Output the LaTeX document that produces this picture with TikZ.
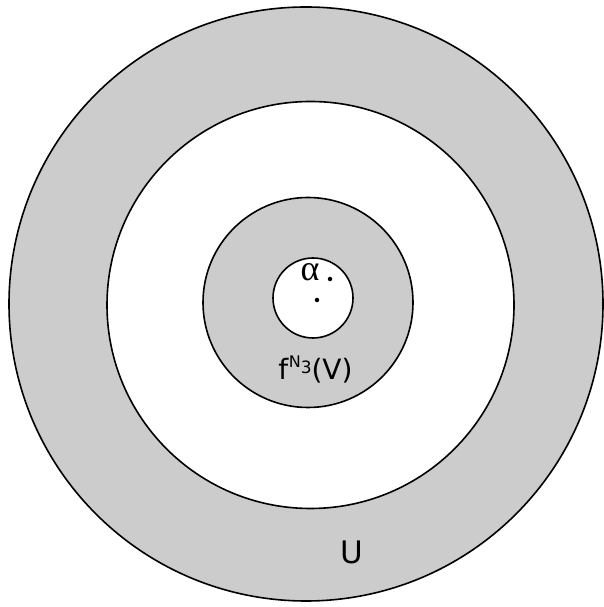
\documentclass[tikz,border=0pt]{standalone}
\usepackage{fontspec}
\setmainfont{DejaVu Sans}
\newfontfamily\alphafont{Liberation Serif}
\definecolor{ringgray}{HTML}{CCCCCC}
\begin{document}
\begin{tikzpicture}[x=1pt,y=1pt,
  ring/.style={draw=black,line width=1.6pt},
  dotmark/.style={fill=black,circle,inner sep=0pt,minimum size=4.5pt}]
\useasboundingbox (0,0) rectangle (603,607);
\draw[ring,fill=ringgray] (306,303) circle (297);
\draw[ring,fill=white] (310.5,302) circle (203.5);
\draw[ring,fill=ringgray] (308,304.5) circle (105);
\draw[ring,fill=white] (313,309) circle (40);
\node[dotmark] (d1) at (330,328) {};
\node[dotmark] (d2) at (317,307) {};
\node[font=\alphafont\fontsize{36}{40}\selectfont,anchor=base] (alpha) at (310,326) {α};
\node[font=\fontsize{28}{33}\selectfont,anchor=base,inner sep=0pt] (fv) at (315.5,227)
  {f\kern0.5pt\raisebox{12pt}{\fontsize{16}{18}\selectfont N}\raisebox{6pt}{\fontsize{17}{19}\selectfont 3}(V)};
\node[font=\fontsize{31}{35}\selectfont,anchor=base,inner sep=0pt] (U) at (352,43) {U};
\end{tikzpicture}
\end{document}
